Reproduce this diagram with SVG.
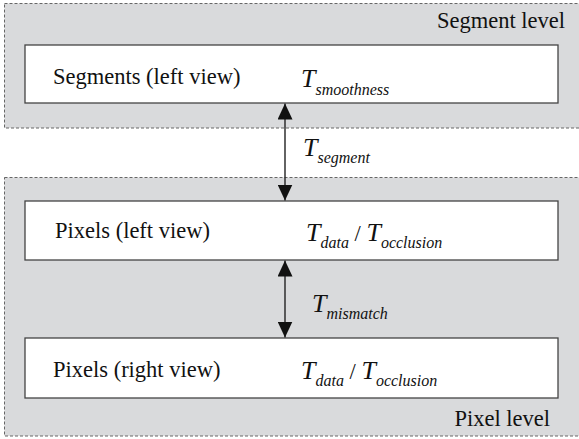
<svg xmlns="http://www.w3.org/2000/svg" width="579" height="439" viewBox="0 0 579 439" font-family="Liberation Serif, Times New Roman, Times, DejaVu Serif, serif">
<style>
.level{fill:#d9dadc;stroke:#666;stroke-width:1;stroke-dasharray:3,2}
.box{fill:#fff;stroke:#444;stroke-width:1.3}
.t{font-size:22.5px;fill:#111}
.m{font-style:italic;font-size:26px;fill:#111}
.s{font-size:16px}
.n{font-style:normal;font-size:22.5px}
.conn{stroke:#222;stroke-width:1.4;fill:none}
</style>
<defs>
<marker id="ah" viewBox="0 0 16 15" refX="16" refY="7.5" markerWidth="16" markerHeight="15" markerUnits="userSpaceOnUse" orient="auto-start-reverse">
<path d="M0,0 L16,7.5 L0,15 z" fill="#111"/>
</marker>
</defs>
<g id="segment-level">
<rect class="level" x="4.5" y="3.5" width="580" height="124.5"/>
<text class="t" x="565" y="28" text-anchor="end">Segment level</text>
</g>
<g id="pixel-level">
<rect class="level" x="4.5" y="177.5" width="580" height="258.5"/>
<text class="t" x="550" y="426" text-anchor="end">Pixel level</text>
</g>
<g id="segments-left">
<rect class="box" x="25" y="45" width="533" height="58"/>
<text class="t" x="53" y="84">Segments (left view)</text>
<text class="m" x="301" y="87">T<tspan class="s" dy="8">smoothness</tspan></text>
</g>
<g id="pixels-left">
<rect class="box" x="25" y="201" width="533" height="59"/>
<text class="t" x="55" y="238">Pixels (left view)</text>
<text class="m" x="306" y="241">T<tspan class="s" dy="7">data</tspan><tspan class="n" dy="-7"> / </tspan>T<tspan class="s" dy="7">occlusion</tspan></text>
</g>
<g id="pixels-right">
<rect class="box" x="25" y="338" width="533" height="60"/>
<text class="t" x="53" y="377">Pixels (right view)</text>
<text class="m" x="301" y="379">T<tspan class="s" dy="7">data</tspan><tspan class="n" dy="-7"> / </tspan>T<tspan class="s" dy="7">occlusion</tspan></text>
</g>
<g id="connectors">
<line class="conn" x1="285" y1="103.5" x2="285" y2="200.5" marker-start="url(#ah)" marker-end="url(#ah)"/>
<line class="conn" x1="285" y1="260.5" x2="285" y2="337.5" marker-start="url(#ah)" marker-end="url(#ah)"/>
<text class="m" x="303" y="156">T<tspan class="s" dy="7">segment</tspan></text>
<text class="m" x="312" y="312">T<tspan class="s" dy="7">mismatch</tspan></text>
</g>
</svg>
